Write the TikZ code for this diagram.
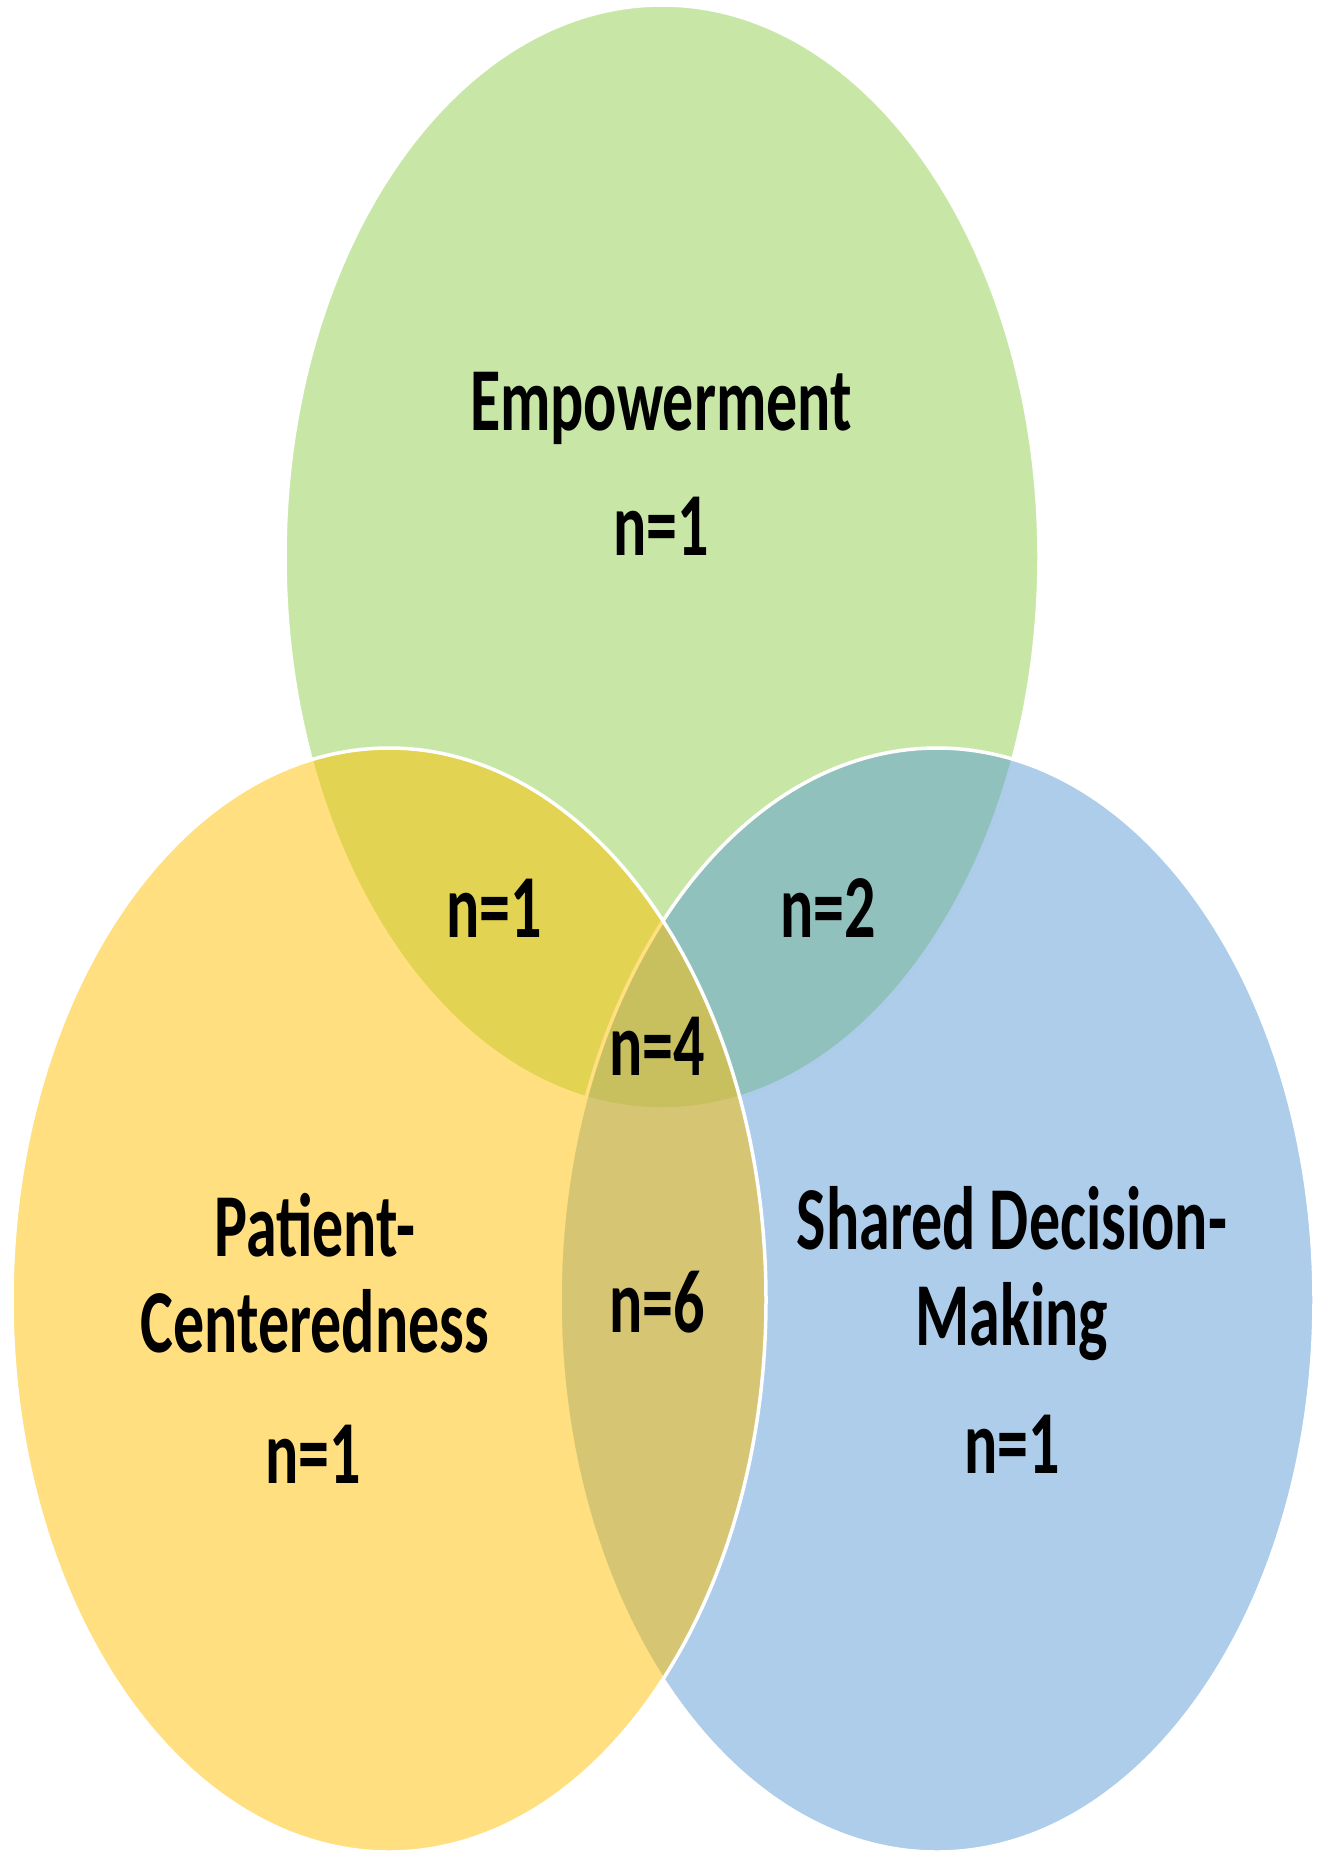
\documentclass[tikz,border=0pt]{standalone}
\usepackage{fontspec}
\setmainfont{Carlito}
\usetikzlibrary{shapes.geometric}
\definecolor{setgreen}{HTML}{92D050}
\definecolor{setblue}{HTML}{5B9BD5}
\definecolor{setgold}{HTML}{FFC000}
\begin{document}
\begin{tikzpicture}[x=1pt,y=-1pt,
  setshape/.style={ellipse, inner sep=0pt, outer sep=0pt,
    minimum width=754pt, minimum height=1104pt,
    draw=white, line width=3.5pt, fill opacity=0.5},
  lbl/.style={font=\fontsize{62}{66}\selectfont\bfseries, align=center,
    anchor=base, inner sep=0pt, yscale=1.45}]
\useasboundingbox (0,0) rectangle (1324,1861);
% the three sets, back to front
\node[setshape, fill=setgreen] (emp) at (662,557) {};
\node[setshape, fill=setblue]  (sdm) at (937,1300) {};
\node[setshape, fill=setgold]  (pc)  at (389,1300) {};
% set names and counts (base anchor of two-line names sits on the last line)
\node[lbl] (empT) at (661,430) {Empowerment};
\node[lbl] (empN) at (661,555) {n=1};
\node[lbl] (epN)  at (494,937) {n=1};
\node[lbl] (esN)  at (828,937) {n=2};
\node[lbl] (allN) at (657,1075) {n=4};
\node[lbl] (psN)  at (657,1332) {n=6};
\node[lbl] (pcT)  at (315,1352) {Patient-\\Centeredness};
\node[lbl] (pcN)  at (313,1483) {n=1};
\node[lbl] (sdmT) at (1012,1345) {Shared Decision-\\Making};
\node[lbl] (sdmN) at (1012,1473) {n=1};
\end{tikzpicture}
\end{document}
